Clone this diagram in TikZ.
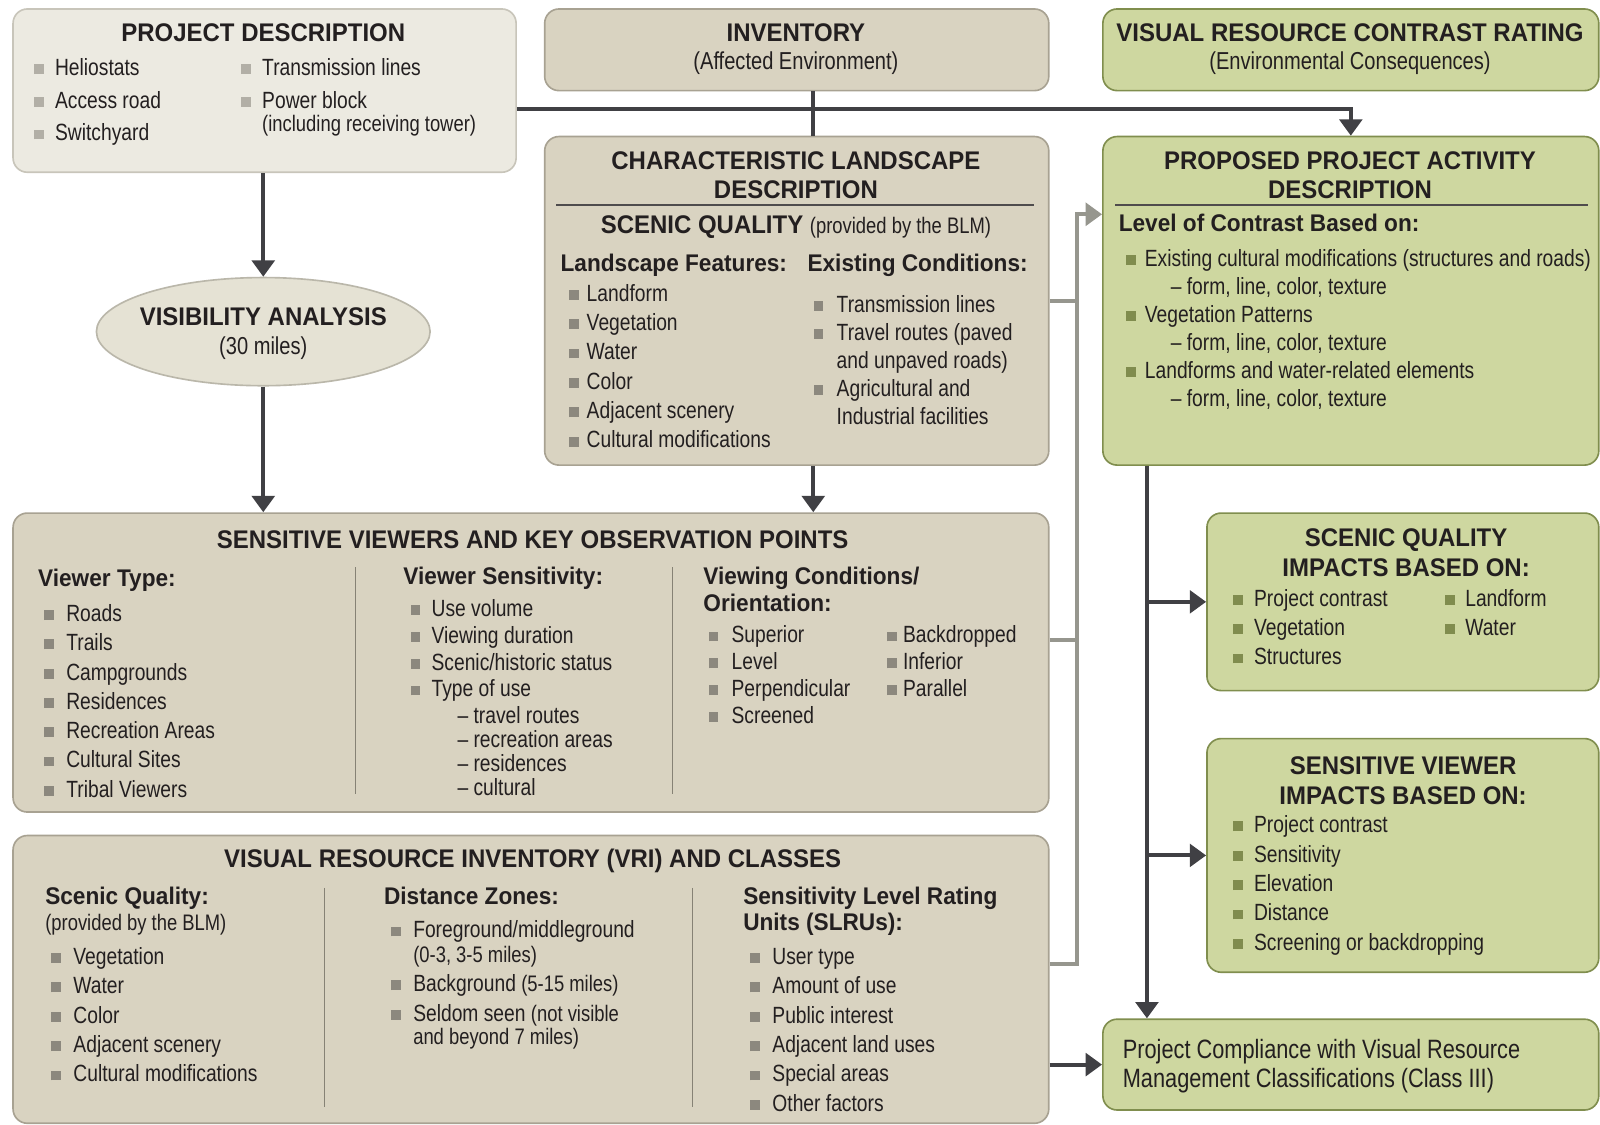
\documentclass[tikz,border=0pt]{standalone}
\usepackage{fontspec}
\setmainfont{Liberation Sans}[FakeStretch=0.82]
\newfontfamily\hdfont{Liberation Sans}[FakeStretch=0.94]
\usetikzlibrary{positioning,arrows.meta,calc,shapes.geometric}
\definecolor{vrTan}{RGB}{217,211,193}
\definecolor{vrTanEdge}{RGB}{168,162,146}
\definecolor{vrPale}{RGB}{236,234,225}
\definecolor{vrPaleEdge}{RGB}{200,197,186}
\definecolor{vrEll}{RGB}{229,226,212}
\definecolor{vrEllEdge}{RGB}{186,183,170}
\definecolor{vrGreen}{RGB}{206,215,160}
\definecolor{vrGreenEdge}{RGB}{128,142,78}
\definecolor{vrInk}{RGB}{35,31,32}
\definecolor{vrDark}{RGB}{64,64,68}
\definecolor{vrGray}{RGB}{150,150,142}
\definecolor{vrBullet}{RGB}{140,136,126}
\definecolor{vrBulletG}{RGB}{128,140,78}
\definecolor{vrBulletP}{RGB}{178,175,166}
\colorlet{bulc}{vrBullet}
\newcommand\vrbul[1][4.5pt]{\textcolor{bulc}{\rule[0.7pt]{4.8pt}{4.8pt}}\hspace{\dimexpr#1-0.5pt\relax}\ignorespaces}
\newcommand\vrlist[1]{\begin{tabular}[t]{@{}l@{}}#1\end{tabular}}
\newcommand\vrctr[1]{\begin{tabular}[t]{@{}c@{}}#1\end{tabular}}
\newcommand\vrsmall{\fontsize{11}{12}\selectfont}

\begin{document}
\begin{tikzpicture}[x=0.5pt,y=-0.5pt,
  tanbox/.style={draw=vrTanEdge, fill=vrTan, line width=0.8pt, rounded corners=7pt, anchor=north west, inner sep=0},
  palebox/.style={tanbox, draw=vrPaleEdge, fill=vrPale},
  greenbox/.style={tanbox, draw=vrGreenEdge, fill=vrGreen},
  ttl/.style={font=\hdfont\bfseries\fontsize{12.5}{14.5}\selectfont, text=vrInk, anchor=base, inner sep=0},
  subt/.style={font=\fontsize{12}{14}\selectfont, text=vrInk, anchor=base, inner sep=0},
  hd/.style={font=\hdfont\bfseries\fontsize{11.8}{13}\selectfont, text=vrInk, anchor=base west, inner sep=0},
  item/.style={font=\fontsize{11.5}{14.4}\selectfont, text=vrInk, anchor=base west, inner sep=0},
  note/.style={item, font=\vrsmall},
  lsk/.style={font=\fontsize{11.5}{#1}\selectfont},
  gitem/.style={item, execute at begin node={\colorlet{bulc}{vrBulletG}}},
  pitem/.style={item, lsk=16pt, execute at begin node={\colorlet{bulc}{vrBulletP}}},
  darr/.style={draw=vrDark, line width=2pt, -{Triangle[width=11pt,length=8pt]}},
  dline/.style={draw=vrDark, line width=2pt},
  gline/.style={draw=vrGray, line width=2pt},
  rulel/.style={draw=vrInk!80, line width=0.6pt},
  divl/.style={draw=vrTanEdge!80!black, line width=0.5pt}]
  \fill[white] (0,0) rectangle (1568,1102);

  % Boxes
  \node[palebox, minimum width=246.5pt, minimum height=80pt] (pd) at (12,8) {};
  \node[tanbox, minimum width=247pt, minimum height=40pt] (inv) at (533,8) {};
  \node[greenbox, minimum width=243pt, minimum height=40pt] (vrc) at (1080,8) {};
  \node[tanbox, minimum width=247pt, minimum height=161pt] (cld) at (533,133) {};
  \node[greenbox, minimum width=243pt, minimum height=161pt] (ppa) at (1080,133) {};
  \node[ellipse, draw=vrEllEdge, fill=vrEll, line width=0.8pt, minimum width=163.5pt, minimum height=53pt, inner sep=0] (vis) at (258,325) {};
  \node[tanbox, minimum width=507.5pt, minimum height=146.5pt] (svk) at (12,502) {};
  \node[tanbox, minimum width=507.5pt, minimum height=141pt] (vri) at (12,818) {};
  \node[greenbox, minimum width=192pt, minimum height=87pt] (sqi) at (1182,502) {};
  \node[greenbox, minimum width=192pt, minimum height=114.5pt] (svi) at (1182,723) {};
  \node[greenbox, minimum width=243pt, minimum height=44.5pt] (cmp) at (1080,998) {};

  % Dark connectors
  \coordinate (jn) at (797,107);
  \coordinate (tr) at (1124,455);
  \draw[dline] (inv.south -| jn) -- (cld.north -| jn);
  \draw[darr] (pd.east |- jn) -| (ppa.north);
  \draw[darr] (pd.south -| vis.north) -- (vis.north);
  \draw[darr] (vis.south) -- (svk.north -| vis.south);
  \draw[darr] (cld.south -| jn) -- (svk.north -| jn);
  \draw[darr] (ppa.south -| tr) -- (cmp.north -| tr);
  \draw[darr] (tr |- sqi.west) -- (sqi.west);
  \draw[darr] (tr |- svi.west) -- (svi.west);
  \draw[darr] (vri.east |- cmp.west) -- (cmp.west);

  % Gray connectors
  \coordinate (gt) at (1055,210);
  \coordinate (g1) at (1055,627);
  \coordinate (g2) at (1055,945);
  \draw[gline] (cld.east) -- (cld.east -| gt);
  \draw[gline] (svk.east |- g1) -- (g1);
  \draw[gline, -{Triangle[width=11pt,length=8pt]}] (vri.east |- g2) -- (g2) -- (gt) -- (ppa.west |- gt);

  % Project description
  \node[ttl] (pd-t) at (258,41) {PROJECT DESCRIPTION};
  \node[pitem] (pd-l) at (33,74) {\vrlist{\vrbul[6pt]Heliostats\\ \vrbul[6pt]Access road\\ \vrbul[6pt]Switchyard}};
  \node[pitem] (pd-r) at (236,74) {\vrlist{\vrbul[6pt]Transmission lines\\ \vrbul[6pt]Power block\\[-4.5pt] \hspace*{10.3pt}\vrsmall(including receiving tower)}};

  % Inventory and contrast rating
  \node[ttl] (inv-t) at (780,41) {INVENTORY};
  \node[subt] (inv-s) at (780,68) {(Affected Environment)};
  \node[ttl] (vrc-t) at (1323,41) {VISUAL RESOURCE CONTRAST RATING};
  \node[subt] (vrc-s) at (1323,68) {(Environmental Consequences)};

  % Characteristic landscape
  \node[ttl] (cld-t) at (780,166) {\vrctr{CHARACTERISTIC LANDSCAPE\\DESCRIPTION}};
  \draw[rulel] (545,201) -- (1013,201);
  \node[ttl] (cld-q) at (780,229) {SCENIC QUALITY \normalfont\vrsmall(provided by the BLM)};
  \node[hd] (cld-h1) at (549,266) {Landscape Features:};
  \node[hd] (cld-h2) at (791,266) {Existing Conditions:};
  \node[item] (cld-l) at (557,295) {\vrlist{\vrbul Landform\\ \vrbul Vegetation\\ \vrbul Water\\ \vrbul Color\\ \vrbul Adjacent scenery\\ \vrbul Cultural modifications}};
  \node[item, lsk=13.75pt] (cld-r) at (797,306) {\vrlist{\vrbul[7pt]Transmission lines\\ \vrbul[7pt]Travel routes (paved\\ \hspace*{11.3pt}and unpaved roads)\\ \vrbul[7pt]Agricultural and\\ \hspace*{11.3pt}Industrial facilities}};

  % Proposed project activity
  \node[ttl] (ppa-t) at (1323,166) {\vrctr{PROPOSED PROJECT ACTIVITY\\DESCRIPTION}};
  \draw[rulel] (1093,201) -- (1556,201);
  \node[hd] (ppa-h) at (1096,227) {Level of Contrast Based on:};
  \node[gitem, lsk=13.7pt] (ppa-l) at (1103,261) {\vrlist{\vrbul[5pt]Existing cultural modifications (structures and roads)\\ \hspace*{22pt}\textendash{} form, line, color, texture\\ \vrbul[5pt]Vegetation Patterns\\ \hspace*{22pt}\textendash{} form, line, color, texture\\ \vrbul[5pt]Landforms and water-related elements\\ \hspace*{22pt}\textendash{} form, line, color, texture}};

  % Visibility analysis
  \node[ttl] (vis-t) at (258,319) {VISIBILITY ANALYSIS};
  \node[subt] (vis-s) at (258,347) {(30 miles)};

  % Sensitive viewers
  \node[ttl] (svk-t) at (522,538) {SENSITIVE VIEWERS AND KEY OBSERVATION POINTS};
  \draw[divl] (348,556) -- (348,778);
  \draw[divl] (659,556) -- (659,778);
  \node[hd] (svk-h1) at (37,575) {Viewer Type:};
  \node[item, lsk=14.35pt] (svk-l1) at (43,609) {\vrlist{\vrbul[6.5pt]Roads\\ \vrbul[6.5pt]Trails\\ \vrbul[6.5pt]Campgrounds\\ \vrbul[6.5pt]Residences\\ \vrbul[6.5pt]Recreation Areas\\ \vrbul[6.5pt]Cultural Sites\\ \vrbul[6.5pt]Tribal Viewers}};
  \node[hd] (svk-h2) at (395,573) {Viewer Sensitivity:};
  \node[item, lsk=13.15pt] (svk-l2) at (402,604) {\vrlist{\vrbul[6pt]Use volume\\ \vrbul[6pt]Viewing duration\\ \vrbul[6pt]Scenic/historic status\\ \vrbul[6pt]Type of use\\ \hspace*{23pt}\textendash{} travel routes\\[-1.4pt] \hspace*{23pt}\textendash{} recreation areas\\[-1.4pt] \hspace*{23pt}\textendash{} residences\\[-1.4pt] \hspace*{23pt}\textendash{} cultural}};
  \node[hd] (svk-h3) at (689,573) {\vrlist{Viewing Conditions/\\Orientation:}};
  \node[item, lsk=13.15pt] (svk-l3) at (694,630) {\vrlist{\vrbul[7pt]Superior\\ \vrbul[7pt]Level\\ \vrbul[7pt]Perpendicular\\ \vrbul[7pt]Screened}};
  \node[item, lsk=13.15pt] (svk-l4) at (869,630) {\vrlist{\vrbul[3.5pt]Backdropped\\ \vrbul[3.5pt]Inferior\\ \vrbul[3.5pt]Parallel}};

  % Visual resource inventory
  \node[ttl] (vri-t) at (522,850) {VISUAL RESOURCE INVENTORY (VRI) AND CLASSES};
  \draw[divl] (318,870) -- (318,1085);
  \draw[divl] (679,870) -- (679,1085);
  \node[hd] (vri-h1) at (44,886) {Scenic Quality:};
  \node[note] (vri-n1) at (44,912) {(provided by the BLM)};
  \node[item] (vri-l1) at (50,945) {\vrlist{\vrbul[6.5pt]Vegetation\\ \vrbul[6.5pt]Water\\ \vrbul[6.5pt]Color\\ \vrbul[6.5pt]Adjacent scenery\\ \vrbul[6.5pt]Cultural modifications}};
  \node[hd] (vri-h2) at (376,886) {Distance Zones:};
  \node[item] (vri-l2) at (383,919) {\vrlist{\vrbul[6.5pt]Foreground/middleground\\[-2.4pt] \hspace*{10.8pt}\vrsmall(0-3, 3-5 miles)\\ \vrbul[6.5pt]Background \vrsmall(5-15 miles)\\ \vrbul[6.5pt]Seldom seen \vrsmall(not visible\\[-2.7pt] \hspace*{10.8pt}\vrsmall and beyond 7 miles)}};
  \node[hd] (vri-h3) at (728,886) {\vrlist{Sensitivity Level Rating\\Units (SLRUs):}};
  \node[item] (vri-l3) at (735,945) {\vrlist{\vrbul[6.5pt]User type\\ \vrbul[6.5pt]Amount of use\\ \vrbul[6.5pt]Public interest\\ \vrbul[6.5pt]Adjacent land uses\\ \vrbul[6.5pt]Special areas\\ \vrbul[6.5pt]Other factors}};

  % Impacts
  \node[ttl] (sqi-t) at (1378,536) {\vrctr{SCENIC QUALITY\\IMPACTS BASED ON:}};
  \node[gitem] (sqi-l1) at (1208,594) {\vrlist{\vrbul[6pt]Project contrast\\ \vrbul[6pt]Vegetation\\ \vrbul[6pt]Structures}};
  \node[gitem] (sqi-l2) at (1416,594) {\vrlist{\vrbul[5.5pt]Landform\\ \vrbul[5.5pt]Water}};
  \node[ttl] (svi-t) at (1375,759) {\vrctr{SENSITIVE VIEWER\\IMPACTS BASED ON:}};
  \node[gitem] (svi-l) at (1208,816) {\vrlist{\vrbul[6pt]Project contrast\\ \vrbul[6pt]Sensitivity\\ \vrbul[6pt]Elevation\\ \vrbul[6pt]Distance\\ \vrbul[6pt]Screening or backdropping}};

  % Compliance
  \node[item, font=\fontsize{13}{14.5}\selectfont] (cmp-t) at (1100,1037) {\vrlist{Project Compliance with Visual Resource\\Management Classifications (Class III)}};
\end{tikzpicture}
\end{document}
